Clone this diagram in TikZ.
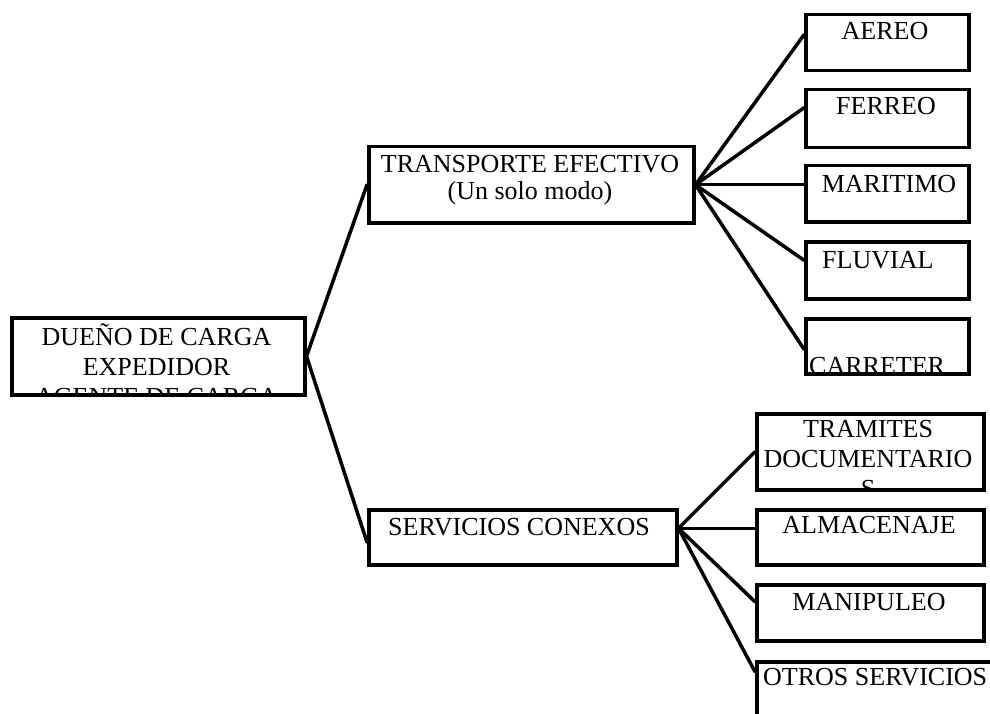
\documentclass[tikz,border=0pt]{standalone}
\usepackage{fontspec}
\setmainfont{Liberation Serif}
\begin{document}
\begin{tikzpicture}[x=1pt,y=-1pt,
  box/.style={draw=black, line width=3.5pt, rectangle, inner sep=0pt, anchor=north west},
  conn/.style={draw=black, line width=3.5pt, line cap=round},
  lbl/.style={anchor=base, inner sep=0pt, font=\fontsize{26}{30}\selectfont},
  lblw/.style={anchor=base west, inner sep=0pt, font=\fontsize{26}{30}\selectfont}]
\clip (0,0) rectangle (990,714);
\fill[white] (0,0) rectangle (990,714);
% boxes
\node[box, minimum width=293pt, minimum height=77pt] (root) at (10,316) {};
\node[box, minimum width=325pt, minimum height=76pt] (trans) at (367,145) {};
\node[box, minimum width=308pt, minimum height=55pt] (serv) at (367,508) {};
\node[box, minimum width=163pt, minimum height=56pt] (aereo) at (804,13) {};
\node[box, minimum width=163pt, minimum height=58pt] (ferreo) at (804,88) {};
\node[box, minimum width=163pt, minimum height=56pt] (marit) at (804,164) {};
\node[box, minimum width=163pt, minimum height=57pt] (fluv) at (804,240) {};
\node[box, minimum width=163pt, minimum height=55pt] (carr) at (804,317) {};
\node[box, minimum width=227pt, minimum height=76pt] (tram) at (755,412) {};
\node[box, minimum width=227pt, minimum height=55pt] (alma) at (755,508) {};
\node[box, minimum width=227pt, minimum height=56pt] (mani) at (755,583) {};
\node[box, minimum width=260pt, minimum height=80pt] (otros) at (755,660) {};
% texts
\begin{scope}
\clip (root.north west) rectangle (root.south east);
\node[lbl] (rootA) at (156.5,345) {DUEÑO DE CARGA};
\node[lbl] (rootB) at (156.5,375) {EXPEDIDOR};
\node[lbl] (rootC) at (156.5,405) {AGENTE DE CARGA};
\end{scope}
\node[lbl] (transA) at (530,173) {TRANSPORTE EFECTIVO};
\node[lbl] (transB) at (530,200) {(Un solo modo)};
\node[lbl] (servA) at (519,535) {SERVICIOS CONEXOS};
\node[lbl] (aereoT) at (885,40) {AEREO};
\node[lbl] (ferreoT) at (886,115) {FERREO};
\node[lbl] (maritT) at (889,193) {MARITIMO};
\node[lblw] (fluvT) at (822,268) {FLUVIAL};
\begin{scope}
\clip (carr.north west) rectangle (carr.south east);
\node[lblw] (carrT) at (809,374) {CARRETER};
\end{scope}
\begin{scope}
\clip (tram.north west) rectangle (tram.south east);
\node[lbl] (tramA) at (868,437) {TRAMITES};
\node[lbl] (tramB) at (868,467) {DOCUMENTARIO};
\node[lbl] (tramC) at (868,497) {S};
\end{scope}
\node[lbl] (almaT) at (869,533) {ALMACENAJE};
\node[lbl] (maniT) at (869,610) {MANIPULEO};
\node[lblw] (otrosT) at (763,685) {OTROS SERVICIOS};
% connectors
\draw[conn] (root.east) -- (trans.west);
\draw[conn] (root.east) -- ([yshift=-5pt]serv.west);
\draw[conn] (trans.east) -- ([yshift=8pt]aereo.west);
\draw[conn] (trans.east) -- ([yshift=11pt]ferreo.west);
\draw[conn] (trans.east) -- ([yshift=9pt]marit.west);
\draw[conn] (trans.east) -- ([yshift=10pt]fluv.west);
\draw[conn] (trans.east) -- ([yshift=-3pt]carr.west);
\draw[conn] ([yshift=9pt]serv.east) -- (tram.west);
\draw[conn] ([yshift=9pt]serv.east) -- ([yshift=9pt]alma.west);
\draw[conn] ([yshift=9pt]serv.east) -- ([yshift=11pt]mani.west);
\draw[conn] ([yshift=9pt]serv.east) -- ([yshift=30pt]otros.west);
\end{tikzpicture}
\end{document}
